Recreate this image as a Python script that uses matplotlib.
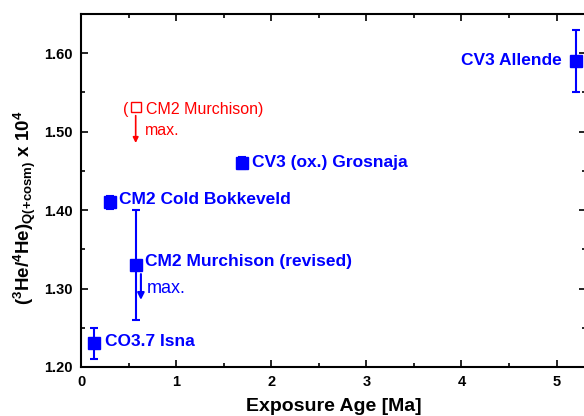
import numpy as np
import matplotlib
matplotlib.use('Agg')
import matplotlib.pyplot as plt
from matplotlib.ticker import MultipleLocator

plt.rcParams['font.family'] = ['Liberation Sans', 'DejaVu Sans']
plt.rcParams['mathtext.fontset'] = 'custom'
plt.rcParams['mathtext.rm'] = 'Liberation Sans'
plt.rcParams['mathtext.bf'] = 'Liberation Sans:bold'
plt.rcParams['mathtext.it'] = 'Liberation Sans:italic'

# meteorite data: exposure age [Ma], ratio, lower / upper error
names = ['CO3.7 Isna', 'CM2 Cold Bokkeveld', 'CM2 Murchison (revised)',
         'CV3 (ox.) Grosnaja', 'CV3 Allende']
age = [0.14, 0.31, 0.58, 1.69, 5.20]
ratio = [1.23, 1.41, 1.33, 1.46, 1.59]
err_lo = [0.02, 0.008, 0.07, 0.008, 0.04]
err_hi = [0.02, 0.008, 0.07, 0.008, 0.04]

# old Murchison value (open red square, upper limit)
old_age = 0.575
old_ratio = 1.532

blue = '#0000FF'
red = '#FF0000'

fig = plt.figure(figsize=(5.84, 4.16), dpi=100)
ax = fig.add_axes([81 / 584, 49 / 416, 505 / 584, 353 / 416])

ax.errorbar(age, ratio, yerr=[err_lo, err_hi], fmt='s', color=blue,
            ms=9, elinewidth=1.5, capsize=3, capthick=1.5, zorder=3)
ax.plot([old_age], [old_ratio], 's', mfc='white', mec=red, ms=7, mew=1, zorder=3)

# labels
ax.text(0.25, 1.232, names[0], color=blue, fontsize=12.5, fontweight='bold', va='center')
ax.text(0.40, 1.413, names[1], color=blue, fontsize=12.5, fontweight='bold', va='center')
ax.text(0.67, 1.334, names[2], color=blue, fontsize=12.5, fontweight='bold', va='center')
ax.text(0.69, 1.300, 'max.', color=blue, fontsize=13, va='center')
ax.text(1.80, 1.461, names[3], color=blue, fontsize=12.5, fontweight='bold', va='center')
ax.text(5.06, 1.591, names[4], color=blue, fontsize=12.5, fontweight='bold', va='center', ha='right')

ax.text(0.44, 1.528, '(', color=red, fontsize=11.5, va='center')
ax.text(0.68, 1.528, 'CM2 Murchison)', color=red, fontsize=11.5, va='center')
ax.text(0.67, 1.502, 'max.', color=red, fontsize=11.5, va='center')

# upper-limit arrows
ax.annotate('', xy=(0.63, 1.282), xytext=(0.63, 1.322),
            arrowprops=dict(arrowstyle='-|>', color=blue, lw=1.5, mutation_scale=10))
ax.annotate('', xy=(0.575, 1.482), xytext=(0.575, 1.524),
            arrowprops=dict(arrowstyle='-|>', color=red, lw=1.2, mutation_scale=8))

ax.set_xlim(0, 5.31)
ax.set_ylim(1.20, 1.65)
ax.xaxis.set_major_locator(MultipleLocator(1))
ax.xaxis.set_minor_locator(MultipleLocator(0.5))
ax.yaxis.set_major_locator(MultipleLocator(0.1))
ax.yaxis.set_minor_locator(MultipleLocator(0.05))
ax.yaxis.set_major_formatter(plt.FormatStrFormatter('%.2f'))

ax.tick_params(which='both', direction='in', top=True, right=True, width=1.2)
ax.tick_params(which='major', length=5, labelsize=10.5, pad=6)
ax.tick_params(which='minor', length=3)
for lab in ax.get_xticklabels() + ax.get_yticklabels():
    lab.set_fontweight('bold')
for sp in ax.spines.values():
    sp.set_linewidth(1.5)

ax.set_xlabel('Exposure Age [Ma]', fontsize=14, fontweight='bold', labelpad=6)
ax.set_ylabel(r'$\mathbf{(^3He/^4He)_{Q(+cosm)}\ x\ 10^4}$', fontsize=13.5)
ax.yaxis.set_label_coords(-0.085, 0.45)

fig.savefig('out.png', dpi=100)
